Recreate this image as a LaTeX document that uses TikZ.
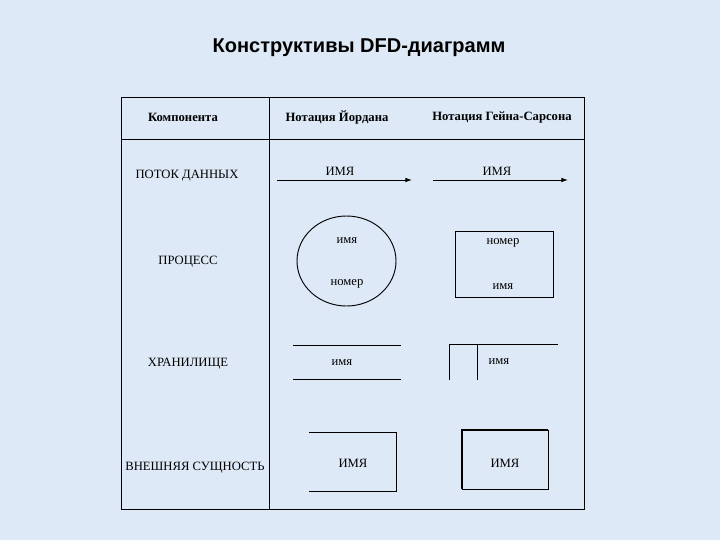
\documentclass[tikz,border=0pt]{standalone}
\usepackage{fontspec}
\setmainfont{Liberation Serif}
\newfontfamily\titlefont{Liberation Sans}
\usetikzlibrary{arrows.meta}
\definecolor{slidebg}{RGB}{221,233,246}

\begin{document}
\begin{tikzpicture}[x=0.75pt, y=-0.75pt,
  lbl/.style={font=\fontsize{9.5}{11}\selectfont, inner sep=0pt},
  hdr/.style={font=\fontsize{9.5}{11}\selectfont\bfseries, inner sep=0pt},
  arr/.style={-{Latex[length=5pt,width=3.5pt]}, line width=0.7pt},
  ln/.style={line width=0.7pt}
]

% Background
\fill[slidebg] (0,0) rectangle (720,540);

% Title
\node[font=\titlefont\fontsize{15}{18}\selectfont\bfseries] at (359, 48) (title) {Конструктивы DFD-диаграмм};

% Table frame
\draw[ln] (121, 97) rectangle (584, 509);
\draw[ln] (269, 97) -- (269, 509);
\draw[ln] (121, 139) -- (584, 139);

% Header
\node[hdr] at (183, 117) (hcomp)  {Компонента};
\node[hdr] at (337, 117) (hjord)  {Нотация Йордана};
\node[hdr] at (502, 117) (hgane)  {Нотация Гейна-Сарсона};

% Row labels
\node[lbl] at (187, 176) (rflow)  {ПОТОК ДАННЫХ};
\node[lbl] at (188, 262) (rproc)  {ПРОЦЕСС};
\node[lbl] at (188, 364) (rstore) {ХРАНИЛИЩЕ};
\node[lbl] at (195, 468) (rext)   {ВНЕШНЯЯ СУЩНОСТЬ};

% Data flow
\coordinate (jfs) at (277, 180);
\coordinate (jfe) at (412, 180);
\coordinate (gfs) at (433, 180);
\coordinate (gfe) at (568, 180);
\draw[arr] (jfs) -- (jfe);
\draw[arr] (gfs) -- (gfe);
\node[lbl] at (340, 171) (jfname) {ИМЯ};
\node[lbl] at (497, 171) (gfname) {ИМЯ};

% Process
\draw[ln] (346.5, 261) ellipse [x radius=49.5, y radius=45];
\node[lbl] at (347, 241) (jpname) {имя};
\node[lbl] at (347, 284) (jpnum)  {номер};
\draw[ln] (455, 231) rectangle (553, 297);
\node[lbl] at (503, 243) (gpnum)  {номер};
\node[lbl] at (503, 287) (gpname) {имя};

% Data store
\draw[ln] (293, 345) -- (401, 345);
\draw[ln] (293, 379) -- (401, 379);
\node[lbl] at (342, 363) (jsname) {имя};
\draw[ln] (449, 380) -- (449, 344) -- (558, 344);
\draw[ln] (477, 344) -- (477, 380);
\node[lbl] at (499, 362) (gsname) {имя};

% External entity
\draw[ln] (309, 432) -- (396, 432) -- (396, 491) -- (309, 491);
\node[lbl] at (353, 463) (jename) {ИМЯ};
\draw[ln] (462, 430) rectangle (548, 489);
\draw[line width=2.2pt] (462, 489) -- (462, 430) -- (548, 430);
\node[lbl] at (505, 463) (gename) {ИМЯ};

\end{tikzpicture}
\end{document}
